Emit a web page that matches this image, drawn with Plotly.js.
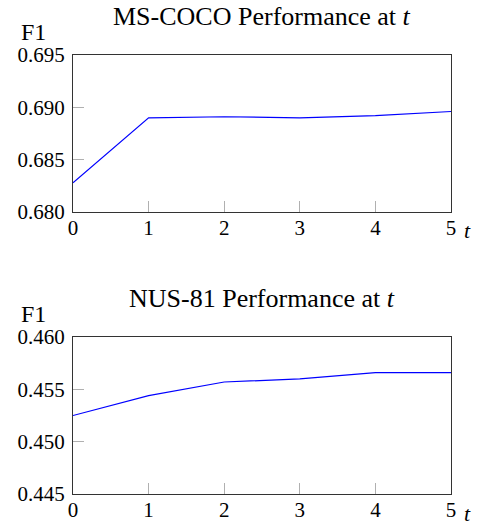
<!DOCTYPE html>
<html><head><meta charset="utf-8">
<script src="https://cdn.plot.ly/plotly-3.0.1.min.js"></script>
<style>html,body{margin:0;padding:0;background:#fff}#chart{width:479px;height:521px}</style>
</head><body><div id="chart"></div>
<script>
const t = [0, 1, 2, 3, 4, 5];
const cocoF1 = [0.6828, 0.6890, 0.6891, 0.6890, 0.6892, 0.6896];
const nusF1 = [0.4525, 0.4544, 0.4557, 0.4560, 0.4566, 0.4566];
const cocoTicks = [0.680, 0.685, 0.690, 0.695];
const nusTicks = [0.445, 0.450, 0.455, 0.460];
const titles = ['MS-COCO Performance at <i>t</i>', 'NUS-81 Performance at <i>t</i>'];

const serif = 'Liberation Serif, Times New Roman, serif';
const lineStyle = {color: '#0000ff', width: 1.2};

const traces = [
  {x: t, y: cocoF1, type: 'scatter', mode: 'lines', line: lineStyle, xaxis: 'x', yaxis: 'y', hoverinfo: 'skip'},
  {x: t, y: nusF1, type: 'scatter', mode: 'lines', line: lineStyle, xaxis: 'x2', yaxis: 'y2', hoverinfo: 'skip'}
];

function xa(anchor) {
  return {anchor: anchor, range: [0, 5], tickvals: t, ticktext: t.map(String),
    ticks: 'inside', ticklen: 11, tickcolor: '#b0b0b0', tickwidth: 1,
    showline: true, mirror: true, linecolor: '#333', linewidth: 1,
    showgrid: false, zeroline: false, ticklabelstandoff: -3,
    tickfont: {family: serif, size: 21, color: '#000'}};
}
function ya(anchor, dom, ticks) {
  return {anchor: anchor, domain: dom, range: [ticks[0], ticks[ticks.length - 1]],
    tickvals: ticks, ticktext: ticks.map(v => v.toFixed(3)),
    ticks: 'inside', ticklen: 11, tickcolor: '#b0b0b0', tickwidth: 1,
    showline: true, mirror: true, linecolor: '#333', linewidth: 1,
    showgrid: false, zeroline: false, ticklabelstandoff: 3,
    tickfont: {family: serif, size: 21, color: '#000'}};
}

const ann = [];
const tops = [1, 0.3576];
for (let i = 0; i < 2; i++) {
  ann.push({text: titles[i], xref: 'paper', yref: 'paper', x: 0.5, y: tops[i], yshift: 22,
    xanchor: 'center', yanchor: 'bottom', showarrow: false, font: {family: serif, size: 26, color: '#000'}});
  ann.push({text: 'F1', xref: 'paper', yref: 'paper', x: 0, xshift: -53, y: tops[i], yshift: 9, borderpad: 0,
    xanchor: 'left', yanchor: 'bottom', showarrow: false, font: {family: serif, size: 24, color: '#000'}});
  ann.push({text: '<i>t</i>', xref: 'paper', yref: 'paper', x: 1, xshift: 12, y: tops[i] - 0.3576, yshift: -19, borderpad: 0,
    xanchor: 'left', yanchor: 'middle', showarrow: false, font: {family: serif, size: 22, color: '#000'}});
}

const layout = {
  width: 479, height: 521,
  margin: {l: 73, r: 28, t: 55, b: 27},
  paper_bgcolor: '#fff', plot_bgcolor: '#fff',
  showlegend: false,
  xaxis: xa('y'), yaxis: ya('x', [0.6424, 1], cocoTicks),
  xaxis2: xa('y2'), yaxis2: ya('x2', [0, 0.3576], nusTicks),
  annotations: ann
};
Plotly.newPlot('chart', traces, layout, {staticPlot: true});
</script></body></html>
